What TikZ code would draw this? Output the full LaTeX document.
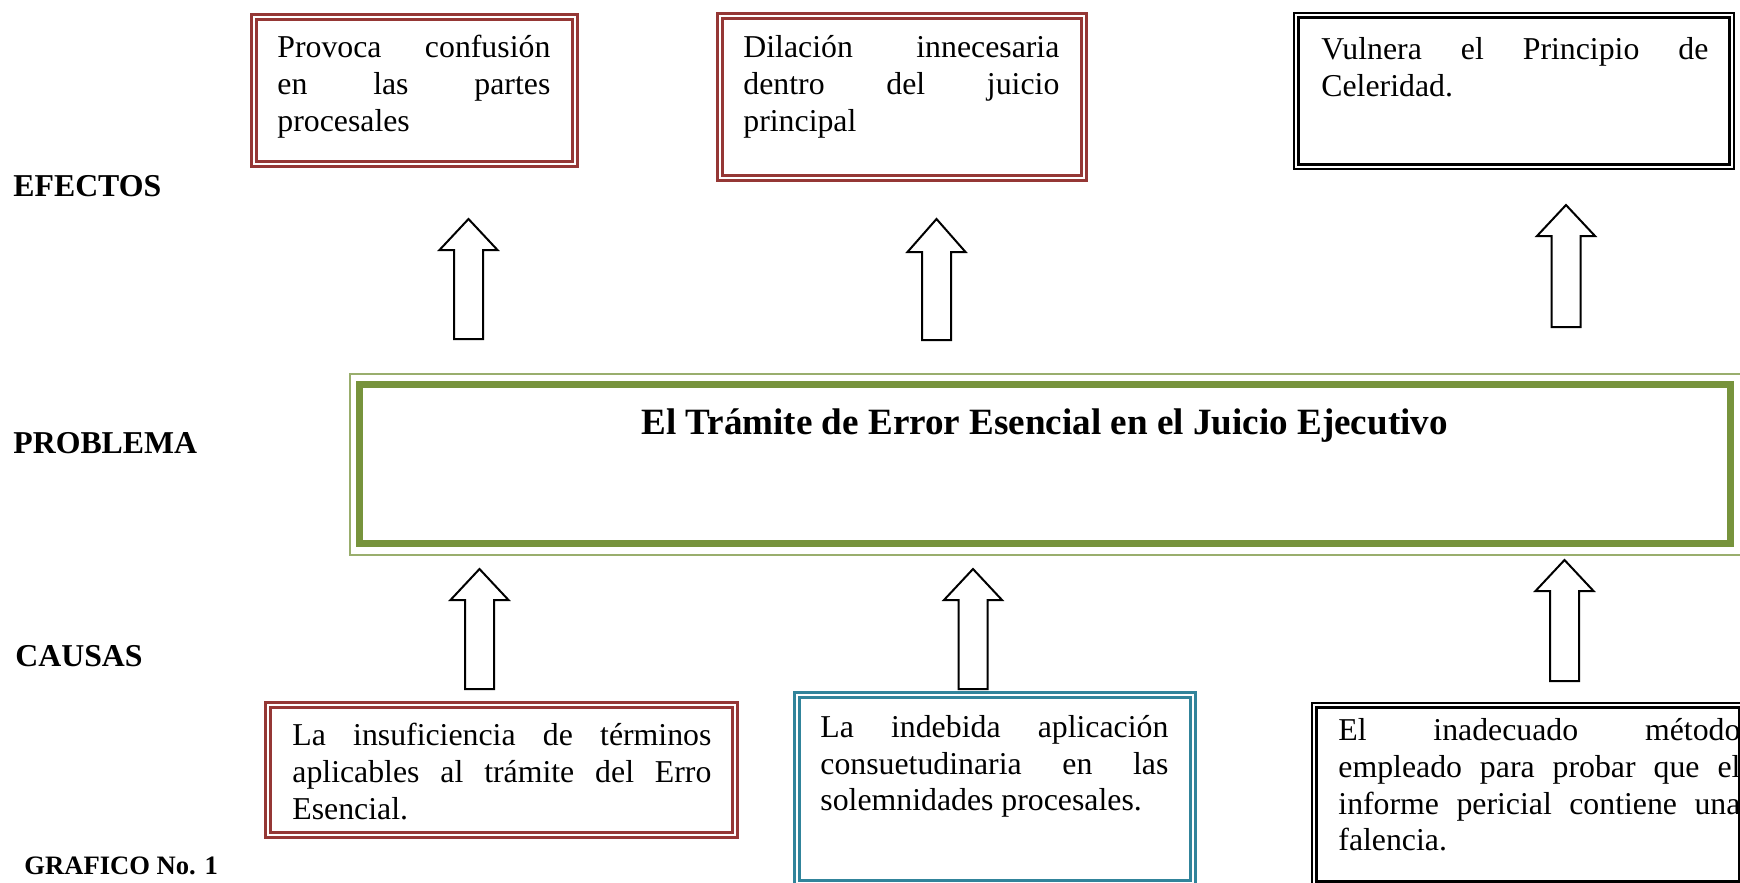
\documentclass[tikz,border=0pt]{standalone}
\usepackage{fontspec}
\setmainfont{Liberation Serif}
\usetikzlibrary{calc}
\definecolor{boxred}{RGB}{149,55,53}
\definecolor{boxgreen}{RGB}{119,147,60}
\definecolor{boxteal}{RGB}{49,132,155}
\hbadness=10000
\newcommand{\blockup}[4]{%
  \draw[barrow] (#1,#2) -- ({#1+29},#3) -- ({#1+14.5},#3) -- ({#1+14.5},#4)
    -- ({#1-14.5},#4) -- ({#1-14.5},#3) -- ({#1-29},#3) -- cycle;}
\tikzset{
  bodytext/.style={font=\fontsize{15.9pt}{18.4pt}\selectfont, inner sep=0pt,
    anchor=base west, align=justify},
  sidelabel/.style={font=\fontsize{15.9pt}{18.4pt}\selectfont\bfseries,
    inner sep=0pt, anchor=base west},
  redbox/.style={rectangle, draw=boxred, double=white, line width=1.35pt,
    double distance=1.3pt, inner sep=0pt},
  tealbox/.style={rectangle, draw=boxteal, double=white, line width=1.35pt,
    double distance=1.3pt, inner sep=0pt},
  blackbox/.style={rectangle, draw=black, double=white, line width=1.25pt,
    double distance=1pt, inner sep=0pt},
  greenthick/.style={rectangle, draw=boxgreen, line width=3.5pt, inner sep=0pt},
  greenthin/.style={draw=boxgreen!75, line width=0.8pt},
  barrow/.style={draw=black, line width=1pt, fill=white, line join=miter},
}
\begin{document}
\begin{tikzpicture}[x=0.5pt,y=-0.5pt]
\useasboundingbox (0,0) rectangle (1740,883);
\clip (0,0) rectangle (1740,883);
\fill[white] (0,0) rectangle (1740,883);

% side labels
\node[sidelabel] (lefectos) at (13,197) {EFECTOS};
\node[sidelabel] (lproblema) at (13,453) {PROBLEMA};
\node[sidelabel] (lcausas) at (15,666) {CAUSAS};
\node[sidelabel, font=\fontsize{13.3pt}{16pt}\selectfont\bfseries] (lgrafico) at (24,874) {GRAFICO No. 1};

% effect boxes
\node[redbox, minimum width=160.5pt, minimum height=73.5pt] (e1) at (414.5,90.5) {};
\node[bodytext, text width=136.5pt] (e1t) at (277,57.5)
  {Provoca confusión\linebreak en las partes\linebreak procesales};

\node[redbox, minimum width=182pt, minimum height=81pt] (e2) at (902,97) {};
\node[bodytext, text width=158pt] (e2t) at (743,58)
  {Dilación innecesaria\linebreak dentro del juicio\linebreak principal};

\node[blackbox, minimum width=217.6pt, minimum height=75.6pt] (e3) at (1514,91) {};
\node[bodytext, text width=193.5pt] (e3t) at (1321,60)
  {Vulnera el Principio de\linebreak Celeridad.};

% problem box
\node[greenthick, minimum width=685.5pt, minimum height=79.3pt] (prob) at (1044.5,464) {};
\draw[greenthin] ($(prob.north west)+(-5.7,-7.2)$) rectangle ($(prob.south east)+(7.5,8)$);
\node[font=\fontsize{18.55pt}{22pt}\selectfont\bfseries, inner sep=0pt, anchor=base]
  (probt) at (1044.5,434) {El Trámite de Error Esencial en el Juicio Ejecutivo};

% cause boxes
\node[redbox, minimum width=233.5pt, minimum height=65pt] (c1) at (501.5,770) {};
\node[bodytext, text width=209.5pt] (c1t) at (292,745.5)
  {La insuficiencia de términos\linebreak aplicables al trámite del Erro\linebreak Esencial.};

\node[tealbox, minimum width=198pt, minimum height=94pt] (c2) at (995,789) {};
\node[bodytext, text width=174pt] (c2t) at (820,737.3)
  {La indebida aplicación\linebreak consuetudinaria en las\linebreak solemnidades procesales.};

\node[blackbox, minimum width=213.6pt, minimum height=89.1pt] (c3) at (1528,794.5) {};
\node[bodytext, text width=201pt] (c3t) at (1338,740.5)
  {El inadecuado método\linebreak empleado para probar que el\linebreak informe pericial contiene una\linebreak falencia.};

% block arrows
\blockup{468.5}{219}{250}{339}
\blockup{936.5}{219}{252}{340}
\blockup{1566}{205}{236}{327}
\blockup{479.5}{569}{600}{689}
\blockup{973}{569}{600}{689}
\blockup{1564.5}{560}{591}{681}
\end{tikzpicture}
\end{document}
